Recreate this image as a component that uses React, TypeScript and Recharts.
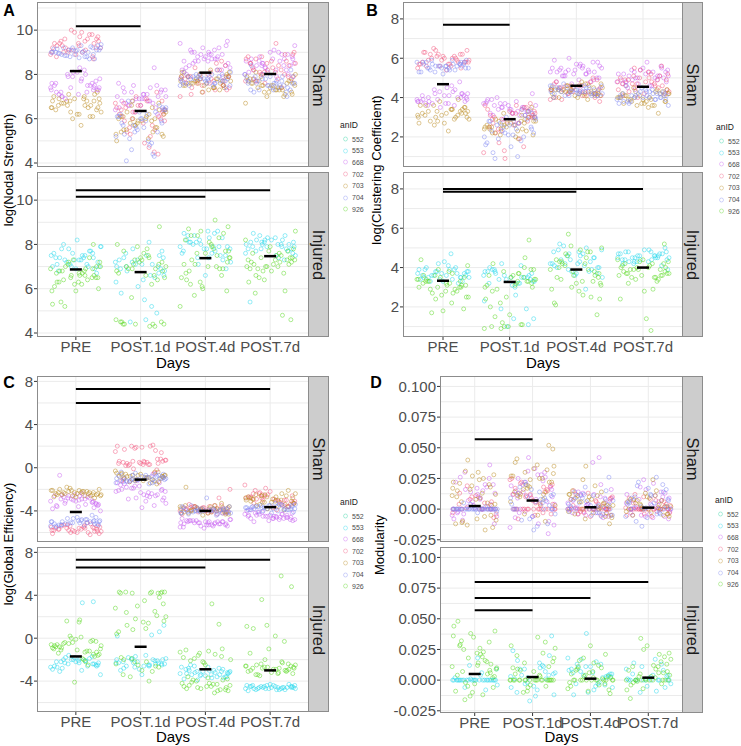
import React from "react";
import { ScatterChart, Scatter, XAxis, YAxis, CartesianGrid, ReferenceLine } from "recharts";

const DAYS = ["PRE", "POST.1d", "POST.4d", "POST.7d"];
const AN_IDS = ["552", "553", "668", "702", "703", "704", "926"];
const AN_COLORS: Record<string, string> = {
  "552": "#1fcf9a",
  "553": "#22d8ec",
  "668": "#c65cf0",
  "702": "#f2557c",
  "703": "#b98a1e",
  "704": "#7f86f2",
  "926": "#55d61c",
};

// fixed jitter offsets (fraction of a category slot)
const JITTER = [-0.31, 0.17, -0.05, 0.36, -0.22, 0.08, 0.29, -0.38, 0.02, -0.14, 0.23, -0.27, 0.12, 0.39, -0.09, -0.34, 0.19, 0.05, -0.19, 0.32,
  -0.02, 0.26, -0.36, 0.14, -0.11, 0.34, -0.25, 0.0, 0.21, -0.29, 0.1, -0.17, 0.38, -0.07, 0.27, -0.33, 0.15, -0.23, 0.31, 0.06,
  -0.39, 0.04, -0.12, 0.25, -0.21, 0.35, -0.04, 0.18, -0.3, 0.09, -0.16, 0.28, -0.37, 0.13, -0.08, 0.37, -0.26, 0.22, -0.13, 0.33];

type Row = [string, string, number[]];

// ---- A: log(Nodal Strength)
const nodalSham: Row[] = [
  ["PRE", "704", [9.0, 8.8, 9.2, 9.1, 8.9, 9.3, 8.7, 9.0, 9.1, 8.85, 9.25, 8.95, 9.05, 9.35, 8.8, 9.15, 9.0, 8.75, 9.2, 9.1, 8.9, 9.2, 9.0, 8.8, 9.1, 9.3, 8.95, 9.05, 8.7, 9.15, 9.0, 8.85, 9.2, 9.1, 8.9]],
  ["PRE", "702", [9.3, 9.0, 9.6, 9.9, 8.8, 9.2, 9.5, 9.1, 9.7, 9.4, 8.9, 9.8, 9.3, 9.0, 9.6, 9.2, 10.0, 8.7, 9.4, 9.1, 9.5, 9.2, 9.7, 8.9, 9.4, 9.0, 9.8, 9.3, 9.5, 9.1, 9.6, 8.8, 9.9, 9.2, 9.4, 9.0]],
  ["PRE", "668", [7.3, 7.5, 8.0, 7.2, 7.7, 8.3, 7.4, 7.1, 7.9, 7.6, 7.0, 7.3, 8.1, 7.5, 7.2, 7.8, 6.9, 7.4, 7.6, 8.2, 7.4, 7.8, 7.1, 7.5, 8.0, 7.3, 7.6, 7.2, 7.9, 7.4, 7.0, 7.7, 7.5, 7.3, 8.1]],
  ["PRE", "703", [6.8, 6.5, 7.0, 6.3, 6.7, 6.9, 6.1, 6.6, 7.2, 6.4, 6.8, 6.0, 6.9, 6.7, 5.7, 7.1, 6.5, 6.2, 6.8, 6.6, 6.6, 6.9, 6.3, 6.8, 7.0, 6.5, 6.2, 6.7, 6.4, 6.9, 6.1, 6.8, 6.6, 7.1, 6.5]],
  ["POST.1d", "668", [6.9, 7.2, 6.5, 7.4, 6.8, 7.0, 6.3, 7.6, 6.7, 7.1, 6.6, 7.3, 6.9, 6.2, 7.0, 6.8, 7.5, 6.4, 7.2, 6.6, 8.3, 6.8, 7.1, 6.6, 7.3, 6.9, 7.0, 6.5, 7.4, 6.7, 7.2, 6.9, 6.4, 7.1, 6.8, 7.5]],
  ["POST.1d", "702", [6.3, 5.9, 6.6, 4.5, 6.1, 6.8, 5.6, 6.4, 7.0, 4.4, 6.2, 5.2, 6.5, 6.0, 4.9, 6.7, 5.8, 6.3, 7.2, 5.4, 6.2, 6.6, 5.7, 6.4, 6.9, 5.3, 6.1, 6.5, 4.7, 6.3, 5.9, 6.7, 5.5, 6.0, 6.8]],
  ["POST.1d", "703", [6.0, 5.6, 6.3, 5.2, 5.9, 6.5, 5.4, 6.1, 5.8, 6.7, 5.0, 6.2, 5.7, 6.4, 5.5, 6.0, 6.8, 5.3, 6.1, 5.9, 5.8, 6.2, 5.5, 6.0, 6.4, 5.3, 5.9, 6.6, 5.6, 6.1, 5.1, 6.3, 5.7, 6.0, 5.4]],
  ["POST.1d", "704", [5.8, 6.2, 4.9, 5.5, 6.4, 4.1, 5.9, 6.6, 5.2, 6.0, 4.6, 6.3, 5.7, 5.0, 6.5, 5.4, 6.1, 4.4, 5.6, 6.8, 5.9, 6.3, 5.4, 6.1, 4.8, 5.7, 6.5, 5.3, 6.0, 4.3, 5.8, 6.2, 5.1, 6.4, 5.6]],
  ["POST.4d", "668", [8.8, 9.0, 8.5, 9.3, 8.7, 8.9, 8.2, 9.1, 8.6, 9.5, 8.4, 8.8, 9.2, 8.0, 8.7, 9.0, 8.3, 8.9, 7.9, 8.6, 8.7, 9.1, 8.4, 8.9, 9.4, 8.6, 8.8, 8.2, 9.0, 8.5, 9.2, 8.7, 8.3, 8.9, 8.6]],
  ["POST.4d", "702", [7.8, 7.5, 8.1, 7.3, 7.9, 8.4, 7.6, 7.0, 8.0, 7.7, 8.6, 7.4, 7.9, 7.2, 8.2, 7.6, 7.8, 8.3, 7.5, 7.9, 7.7, 8.0, 7.4, 7.9, 8.2, 7.6, 7.3, 7.8, 8.5, 7.5, 7.9, 7.1, 8.1, 7.7, 7.8]],
  ["POST.4d", "703", [7.7, 7.5, 7.9, 7.4, 7.8, 8.1, 7.6, 7.3, 7.7, 8.0, 7.5, 7.8, 7.2, 7.9, 7.6, 8.2, 7.4, 7.7, 7.6, 7.8, 7.6, 7.9, 7.4, 7.7, 8.0, 7.5, 7.8, 7.3, 7.6, 7.9, 7.5, 7.7, 8.1, 7.4, 7.6]],
  ["POST.4d", "704", [7.8, 7.6, 8.0, 7.7, 7.9, 7.5, 8.1, 7.8, 7.6, 8.2, 7.7, 7.9, 7.4, 7.8, 8.0, 7.7, 7.6, 7.9, 7.8, 7.5, 7.7, 7.9, 7.6, 8.0, 7.8, 7.5, 7.9, 7.7, 8.1, 7.6, 7.8, 7.7, 7.9, 7.5, 7.8]],
  ["POST.7d", "668", [8.5, 8.8, 8.2, 9.0, 8.4, 8.7, 7.9, 8.6, 9.3, 8.3, 8.9, 8.1, 8.6, 7.7, 8.4, 9.1, 8.0, 8.7, 8.5, 8.2, 8.4, 8.7, 8.1, 8.9, 8.5, 8.2, 8.8, 8.0, 8.6, 9.0, 8.3, 8.5, 7.8, 8.7, 8.4]],
  ["POST.7d", "702", [8.3, 8.0, 8.6, 7.7, 8.9, 8.2, 7.4, 8.5, 9.4, 8.1, 7.9, 8.7, 8.4, 7.6, 9.0, 8.2, 8.0, 8.8, 7.8, 8.5, 8.2, 8.5, 7.9, 8.7, 8.1, 8.4, 7.7, 8.6, 8.0, 8.9, 8.3, 7.8, 8.5, 8.1, 8.8]],
  ["POST.7d", "703", [7.5, 7.2, 7.8, 7.4, 7.0, 7.6, 8.1, 7.3, 7.7, 6.7, 7.5, 7.9, 7.1, 7.6, 7.4, 8.0, 7.2, 7.7, 7.3, 7.5, 7.4, 7.7, 7.2, 7.6, 7.9, 7.3, 7.5, 7.1, 7.8, 7.4, 7.0, 7.6, 7.3, 7.7, 7.5]],
  ["POST.7d", "704", [7.6, 7.9, 7.3, 7.7, 8.2, 7.5, 7.0, 7.8, 7.4, 8.0, 7.6, 7.2, 7.9, 7.5, 8.4, 7.7, 7.3, 7.6, 7.8, 7.4, 7.7, 7.5, 7.9, 7.3, 7.6, 8.0, 7.4, 7.8, 7.2, 7.6, 7.9, 7.5, 7.7, 7.3, 7.6]],
];
const nodalInjured: Row[] = [
  ["PRE", "553", [7.4, 7.1, 7.6, 7.0, 7.8, 7.3, 6.9, 7.5, 8.2, 7.2, 7.7, 6.8, 7.4, 7.9, 7.1, 7.6, 7.0, 7.3, 8.0, 6.7, 7.3, 7.6, 7.0, 7.5, 7.8, 7.2, 7.4, 6.9, 7.7, 7.1, 7.5, 7.3, 7.9, 7.0, 7.4]],
  ["PRE", "926", [6.7, 6.4, 7.0, 6.2, 6.9, 5.3, 6.6, 7.2, 6.5, 6.8, 5.9, 7.4, 6.3, 6.7, 5.2, 7.0, 6.6, 8.0, 6.1, 6.9, 5.4, 6.5, 6.6, 6.9, 6.3, 7.1, 6.5, 6.8, 6.0, 7.3, 6.4, 6.7, 6.2, 7.0, 6.6, 5.9, 6.8, 6.5, 7.2, 6.3]],
  ["POST.1d", "553", [7.0, 7.3, 6.6, 7.6, 6.9, 5.5, 7.2, 6.4, 7.8, 4.9, 6.8, 7.4, 6.1, 7.1, 5.8, 7.5, 4.5, 6.7, 7.0, 8.1, 7.1, 6.8, 7.4, 6.5, 7.2, 7.7, 6.9, 5.2, 7.3, 6.6, 7.0, 4.6, 7.5, 6.3, 7.1]],
  ["POST.1d", "926", [7.1, 6.8, 7.4, 4.4, 6.5, 7.7, 4.3, 6.9, 7.2, 4.5, 6.2, 7.9, 4.4, 7.0, 6.6, 8.8, 4.6, 7.3, 5.6, 6.9, 4.4, 7.5, 7.0, 7.3, 6.7, 4.4, 7.6, 6.9, 4.5, 7.2, 6.4, 8.0, 4.3, 7.1, 6.8, 4.4, 7.4, 6.6, 4.5, 7.8]],
  ["POST.4d", "553", [7.8, 8.1, 7.5, 8.4, 7.9, 7.2, 8.2, 7.7, 8.6, 7.4, 8.0, 6.9, 7.8, 8.3, 7.6, 8.5, 7.1, 7.9, 8.1, 6.6, 7.9, 8.2, 7.6, 8.4, 7.8, 8.0, 7.3, 8.5, 7.7, 8.1, 7.5, 8.3, 7.9, 8.6, 7.4]],
  ["POST.4d", "926", [7.2, 6.8, 7.6, 8.3, 6.4, 7.9, 5.7, 7.4, 8.6, 6.9, 7.1, 9.1, 6.2, 7.7, 8.1, 5.2, 7.0, 8.4, 6.6, 7.3, 8.8, 6.0, 7.5, 6.7, 8.0, 7.1, 8.5, 6.5, 7.8, 6.3, 7.4, 8.7, 6.9, 7.6, 5.9, 8.2, 7.0, 6.1, 7.7, 8.4]],
  ["POST.7d", "553", [8.0, 7.8, 8.2, 7.6, 8.3, 7.9, 8.1, 7.5, 8.4, 7.7, 8.0, 7.4, 8.2, 7.9, 8.5, 7.3, 8.1, 7.8, 5.4, 8.0, 7.9, 8.1, 7.7, 8.3, 8.0, 7.6, 8.2, 7.8, 8.4, 7.9, 8.0, 7.5, 8.1, 7.8, 8.2]],
  ["POST.7d", "926", [7.2, 6.9, 7.5, 7.0, 7.8, 6.6, 7.3, 7.1, 8.2, 6.8, 7.4, 5.9, 7.6, 7.0, 8.6, 6.4, 7.3, 4.8, 7.1, 6.9, 4.6, 7.7, 7.3, 7.0, 7.6, 6.8, 7.4, 7.1, 7.9, 6.7, 7.2, 7.5, 6.5, 7.3, 7.0, 7.7, 6.3, 7.2, 5.8, 7.4]],
];
const nodalShamMeans = [8.15, 6.35, 8.08, 8.02];
const nodalInjuredMeans = [6.87, 6.75, 7.38, 7.47];
const nodalShamSig = [[1, 2, 10.18]];
const nodalInjuredSig = [[1, 3, 10.15], [1, 4, 10.45]];

// ---- B: log(Clustering Coefficient)
const clustSham: Row[] = [
  ["PRE", "702", [5.8, 6.1, 5.6, 6.4, 5.9, 5.7, 6.2, 5.5, 6.0, 6.5, 5.8, 6.3, 5.6, 5.9, 6.1, 5.7, 6.0, 5.4, 6.2, 5.8, 5.9, 6.2, 5.7, 6.0, 6.4, 5.8, 5.6, 6.1, 5.9, 6.3, 5.7, 6.0, 5.8, 6.2, 5.5]],
  ["PRE", "704", [5.6, 5.4, 5.8, 5.5, 5.7, 5.3, 5.9, 5.6, 5.5, 5.8, 5.2, 5.6, 5.7, 5.4, 5.9, 5.5, 5.6, 5.8, 5.3, 5.7, 5.5, 5.7, 5.4, 5.8, 5.6, 5.3, 5.7, 5.5, 5.9, 5.6, 5.4, 5.8, 5.5, 5.7, 5.6]],
  ["PRE", "668", [4.0, 3.8, 4.3, 3.6, 4.1, 4.5, 3.9, 3.7, 4.2, 4.8, 3.8, 4.0, 3.5, 4.4, 3.9, 4.1, 3.7, 4.2, 3.8, 4.6, 3.9, 4.2, 3.7, 4.0, 4.4, 3.8, 4.1, 3.6, 4.3, 3.9, 4.0, 3.7, 4.2, 3.8, 4.1]],
  ["PRE", "703", [3.2, 3.0, 3.4, 2.8, 3.3, 3.6, 3.1, 2.6, 3.5, 3.2, 2.9, 3.8, 3.0, 3.3, 2.3, 3.4, 3.1, 2.7, 3.6, 3.9, 3.1, 3.4, 2.9, 3.3, 3.6, 3.0, 3.2, 2.8, 3.5, 3.1, 3.3, 2.7, 3.4, 3.0, 3.2]],
  ["POST.1d", "668", [3.4, 3.7, 3.1, 3.9, 3.3, 3.6, 2.9, 3.8, 3.5, 3.2, 4.0, 3.0, 3.6, 3.3, 3.7, 2.7, 3.5, 4.2, 3.1, 3.4, 3.5, 3.2, 3.8, 3.4, 3.0, 3.7, 3.3, 3.9, 3.1, 3.6, 3.4, 2.8, 3.7, 3.2, 3.5]],
  ["POST.1d", "702", [3.0, 2.7, 3.3, 1.5, 3.1, 3.6, 2.4, 3.2, 0.9, 2.8, 3.4, 1.9, 3.0, 3.7, 2.6, 1.2, 3.2, 2.9, 3.5, 2.2, 3.1, 2.8, 3.4, 2.5, 3.2, 1.7, 3.0, 3.6, 2.7, 1.3, 3.3, 2.9, 3.5, 2.3, 3.1]],
  ["POST.1d", "703", [2.6, 2.3, 2.9, 2.1, 2.7, 3.1, 2.4, 2.0, 2.8, 3.3, 2.5, 1.9, 2.6, 3.0, 2.2, 2.7, 2.4, 3.5, 2.5, 2.8, 2.5, 2.8, 2.2, 2.6, 3.0, 2.4, 2.7, 2.1, 2.9, 2.5, 2.3, 2.8, 3.2, 2.6, 2.4]],
  ["POST.1d", "704", [2.4, 2.8, 1.8, 3.0, 2.2, 0.9, 2.6, 3.3, 2.0, 1.5, 2.7, 3.1, 2.3, 1.0, 2.9, 2.5, 1.7, 3.4, 2.1, 2.6, 2.5, 2.1, 2.9, 1.6, 2.7, 2.3, 3.2, 1.2, 2.6, 2.0, 2.8, 2.4, 1.9, 3.0, 2.2]],
  ["POST.4d", "668", [5.3, 5.6, 5.1, 5.8, 5.4, 4.9, 5.5, 5.2, 6.0, 5.0, 5.4, 5.7, 4.8, 5.3, 5.6, 5.1, 5.5, 4.7, 5.3, 5.9, 5.2, 5.5, 5.0, 5.7, 5.3, 4.9, 5.4, 5.8, 5.1, 5.6, 5.2, 5.4, 4.8, 5.5, 5.3]],
  ["POST.4d", "702", [4.4, 4.2, 4.7, 4.1, 4.5, 4.9, 4.3, 3.9, 4.6, 4.2, 5.0, 4.4, 3.8, 4.5, 4.3, 4.8, 4.1, 4.6, 4.0, 4.4, 4.3, 4.6, 4.1, 4.5, 4.8, 4.2, 4.4, 4.0, 4.7, 4.3, 4.5, 3.9, 4.6, 4.2, 4.4]],
  ["POST.4d", "703", [4.3, 4.1, 4.5, 4.2, 4.4, 4.7, 4.0, 4.3, 4.6, 4.2, 4.4, 3.9, 4.5, 4.1, 4.3, 4.8, 4.2, 4.4, 4.0, 4.6, 4.2, 4.4, 4.1, 4.5, 4.3, 4.0, 4.6, 4.2, 4.4, 4.3, 4.1, 4.5, 4.2, 4.7, 4.3]],
  ["POST.4d", "704", [4.3, 4.2, 4.5, 4.1, 4.4, 4.6, 4.2, 4.3, 4.0, 4.5, 4.3, 4.7, 4.1, 4.4, 4.2, 4.6, 4.3, 4.1, 4.4, 4.5, 4.4, 4.2, 4.5, 4.3, 4.1, 4.6, 4.3, 4.4, 4.2, 4.5, 4.3, 4.1, 4.4, 4.6, 4.2]],
  ["POST.7d", "668", [5.0, 5.3, 4.8, 5.5, 4.9, 5.2, 4.6, 5.4, 5.1, 4.7, 5.6, 4.9, 5.3, 4.5, 5.0, 5.8, 4.8, 5.2, 4.4, 5.1, 5.1, 4.8, 5.4, 5.0, 4.7, 5.3, 4.9, 5.5, 5.2, 4.6, 5.0, 5.4, 4.8, 5.1, 5.3]],
  ["POST.7d", "702", [4.8, 4.5, 5.1, 4.3, 4.9, 5.4, 4.6, 4.1, 5.0, 4.7, 5.6, 4.4, 4.8, 4.0, 5.2, 4.6, 4.9, 5.5, 4.2, 4.7, 4.7, 5.0, 4.4, 4.9, 5.3, 4.6, 4.8, 4.2, 5.1, 4.5, 4.9, 5.2, 4.3, 4.7, 5.0]],
  ["POST.7d", "703", [4.0, 3.8, 4.2, 3.6, 4.1, 4.4, 3.9, 3.5, 4.3, 4.0, 3.7, 4.5, 3.2, 4.1, 3.9, 4.2, 3.6, 4.0, 4.3, 3.8, 3.9, 4.1, 3.7, 4.2, 4.0, 3.6, 4.3, 3.8, 4.1, 3.9, 4.4, 3.7, 4.0, 3.8, 4.2]],
  ["POST.7d", "704", [4.1, 3.9, 4.3, 3.8, 4.2, 4.5, 4.0, 3.7, 4.4, 4.1, 3.9, 4.6, 4.0, 4.2, 3.8, 4.3, 4.1, 3.6, 4.2, 4.0, 4.0, 4.2, 3.8, 4.3, 4.1, 3.9, 4.4, 4.0, 4.2, 3.7, 4.1, 4.3, 3.9, 4.2, 4.0]],
];
const clustInjured: Row[] = [
  ["PRE", "553", [3.6, 3.9, 3.4, 3.8, 3.5, 4.1, 3.3, 3.7, 4.3, 3.6, 3.2, 3.9, 4.7, 3.5, 3.8, 3.4, 4.0, 3.6, 3.3, 3.7, 3.7, 3.5, 3.9, 3.4, 3.8, 3.6, 4.0, 3.3, 3.7, 3.5, 3.9, 3.6, 3.8, 4.2, 3.5]],
  ["PRE", "926", [3.2, 2.9, 3.5, 2.6, 3.3, 3.0, 3.7, 2.4, 3.1, 3.4, 1.8, 2.8, 3.6, 3.2, 1.7, 2.5, 3.9, 3.0, 4.4, 2.7, 3.3, 1.9, 3.1, 3.4, 2.8, 3.6, 3.0, 3.3, 2.5, 3.5, 2.9, 3.2, 3.8, 2.7, 3.1, 3.4, 2.2, 3.0, 4.1, 3.3]],
  ["POST.1d", "553", [3.5, 3.8, 3.2, 3.9, 3.4, 1.4, 3.6, 3.1, 4.2, 1.9, 3.7, 3.3, 1.0, 3.5, 4.0, 2.6, 3.4, 1.1, 3.8, 3.2, 3.6, 3.3, 3.9, 3.5, 1.9, 3.7, 3.2, 4.1, 3.4, 1.4, 3.8, 3.0, 3.6, 2.3, 3.5]],
  ["POST.1d", "926", [3.3, 3.0, 3.7, 1.0, 3.4, 2.8, 4.0, 0.9, 3.2, 3.6, 1.1, 2.5, 3.9, 1.5, 3.1, 5.4, 0.9, 3.5, 2.2, 4.5, 1.0, 3.3, 3.4, 3.8, 3.1, 1.1, 3.6, 2.9, 3.9, 1.0, 3.3, 2.4, 3.7, 1.2, 3.0, 4.2, 1.6, 3.5, 2.0, 3.2]],
  ["POST.4d", "553", [4.2, 4.6, 3.9, 4.9, 4.1, 3.5, 4.4, 4.8, 3.8, 4.3, 5.1, 4.0, 3.6, 4.5, 4.2, 2.9, 4.7, 4.0, 5.2, 3.7, 4.3, 4.0, 4.7, 4.2, 4.9, 3.8, 4.5, 4.1, 5.0, 4.4, 3.7, 4.6, 4.2, 4.8, 3.9]],
  ["POST.4d", "926", [3.7, 4.3, 3.2, 4.8, 3.5, 2.6, 4.1, 5.0, 3.0, 3.8, 2.2, 4.5, 3.4, 1.6, 4.9, 3.9, 2.8, 5.7, 3.3, 4.2, 2.4, 3.6, 3.9, 4.4, 3.3, 4.7, 3.6, 2.9, 4.2, 5.1, 3.1, 4.0, 2.5, 4.6, 3.5, 2.1, 4.8, 3.8, 3.2, 4.3]],
  ["POST.7d", "553", [4.5, 4.7, 4.3, 4.8, 4.4, 4.6, 4.2, 4.9, 4.5, 4.1, 4.7, 4.4, 4.6, 3.9, 4.8, 4.5, 4.3, 5.0, 4.4, 4.6, 4.6, 4.4, 4.8, 4.3, 4.7, 4.5, 4.9, 4.2, 4.6, 4.4, 4.8, 4.5, 4.3, 4.7, 4.5]],
  ["POST.7d", "926", [3.8, 4.1, 3.5, 4.3, 3.7, 3.2, 4.0, 3.6, 4.4, 2.8, 3.9, 3.4, 4.2, 0.8, 3.7, 4.0, 2.4, 3.5, 1.4, 3.9, 5.2, 3.6, 3.9, 3.6, 4.2, 3.4, 4.0, 3.7, 4.4, 3.3, 3.8, 4.1, 3.5, 4.3, 3.9, 3.6, 4.0, 2.9, 3.7, 4.2]],
];
const clustShamMeans = [4.68, 2.9, 4.6, 4.55];
const clustInjuredMeans = [3.33, 3.27, 3.9, 4.0];
const clustShamSig = [[1, 2, 7.7]];
const clustInjuredSig = [[1, 3, 7.85], [1, 4, 8.0]];

// ---- C: log(Global Efficiency)
const globalSham: Row[] = [
  ["PRE", "703", [-2.4, -2.2, -2.6, -2.0, -2.5, -2.3, -2.8, -2.1, -2.4, -1.8, -2.6, -2.3, -2.2, -2.5, -1.9, -2.7, -2.4, -2.1, -2.3, -2.5, -2.3, -2.5, -2.1, -2.6, -2.2, -2.4, -2.0, -2.7, -2.3, -2.5, -2.2, -2.4, -2.6, -2.1, -2.3]],
  ["PRE", "668", [-3.0, -2.7, -3.4, -2.5, -3.2, -3.8, -2.9, -2.6, -3.5, -0.7, -3.1, -2.8, -3.6, -2.4, -3.3, -4.0, -2.9, -3.1, -2.6, -3.4, -2.9, -3.3, -2.6, -3.1, -3.6, -2.8, -3.2, -2.5, -3.4, -3.0, -2.7, -3.5, -2.9, -3.1, -3.7]],
  ["PRE", "704", [-5.0, -5.2, -4.8, -5.3, -4.6, -5.1, -5.4, -4.9, -5.2, -4.4, -5.0, -5.3, -4.7, -5.1, -5.5, -4.8, -5.2, -4.9, -5.0, -5.3, -5.1, -4.9, -5.3, -5.0, -4.7, -5.2, -5.4, -4.8, -5.1, -5.0, -5.3, -4.9, -5.2, -5.0, -4.6]],
  ["PRE", "702", [-5.6, -5.8, -5.4, -6.0, -5.5, -5.7, -6.2, -5.3, -5.9, -5.6, -5.1, -5.8, -6.1, -5.4, -5.7, -5.9, -5.5, -6.0, -5.6, -5.2, -5.7, -5.5, -5.9, -5.4, -5.8, -6.0, -5.6, -5.3, -5.7, -5.9, -5.5, -6.1, -5.6, -5.8, -5.4]],
  ["POST.1d", "702", [1.9, 2.0, 1.6, 0.5, 0.3, 0.7, 1.8, 0.4, 2.1, 0.6, 0.2, 1.4, 0.5, 0.8, 2.0, 0.3, -0.1, 0.6, 1.7, 0.4, -0.5, -1.2, 0.5, 0.3, 0.7, 1.9, 0.4, 0.6, 2.0, 0.2, 0.8, 0.5, 1.5, 0.3, 0.6, -0.2, 0.4]],
  ["POST.1d", "703", [-0.8, -1.0, -0.6, -1.2, -0.5, -0.9, -1.3, -0.7, -1.1, -0.4, -0.8, -1.4, -0.6, -1.0, -0.9, -0.3, -1.2, -0.7, -1.5, -0.8, -0.9, -0.7, -1.1, -0.6, -1.0, -0.8, -1.3, -0.5, -0.9, -1.2, -0.7, -1.0, -0.4, -1.1, -0.8]],
  ["POST.1d", "704", [-1.0, -0.8, -1.3, -0.6, -1.1, -1.4, -0.4, -0.9, -1.2, -0.7, -1.0, -1.5, -0.5, -1.1, -0.9, -1.3, -0.7, -1.0, -1.2, -0.8, -1.1, -0.9, -1.2, -0.7, -1.0, -1.4, -0.8, -1.1, -0.6, -1.3, -0.9, -1.0, -1.2, -0.7, -1.1]],
  ["POST.1d", "668", [-2.0, -1.6, -2.4, -1.2, -2.8, -1.8, -3.1, -1.4, -2.2, -3.7, -1.9, -2.6, -1.1, -2.3, -3.3, -1.7, -2.1, -0.6, -2.5, -2.9, -2.1, -1.7, -2.5, -1.4, -2.7, -1.9, -3.0, -1.5, -2.3, -3.5, -2.0, -2.6, -1.3, -2.2, -2.8]],
  ["POST.4d", "702", [-3.8, -4.0, -3.6, -4.2, -3.7, -3.9, -4.3, -3.5, -4.1, -3.8, -3.4, -4.0, -2.8, -3.9, -4.1, -3.6, -2.0, -3.8, -4.2, -3.7, -3.9, -3.7, -4.1, -3.6, -4.0, -4.2, -3.8, -3.5, -3.9, -4.1, -3.7, -4.3, -3.8, -4.0, -3.6]],
  ["POST.4d", "703", [-3.9, -3.7, -4.1, -3.5, -4.0, -4.3, -3.8, -3.6, -4.2, -3.9, -3.3, -4.0, -3.7, -4.4, -3.8, -1.8, -4.1, -3.6, -3.9, -4.2, -3.8, -4.0, -3.6, -4.2, -3.9, -3.7, -4.1, -3.5, -4.0, -3.8, -4.3, -3.9, -3.6, -4.1, -3.8]],
  ["POST.4d", "704", [-4.0, -3.8, -4.2, -3.9, -4.1, -3.6, -4.3, -4.0, -3.7, -4.2, -3.9, -4.4, -3.8, -4.1, -3.5, -4.0, -3.9, -4.2, -2.8, -4.0, -3.9, -4.1, -3.8, -4.2, -4.0, -3.7, -4.3, -3.9, -4.1, -3.8, -4.0, -4.2, -3.6, -4.0, -3.9]],
  ["POST.4d", "668", [-5.1, -5.3, -4.9, -5.2, -5.0, -5.4, -4.8, -5.1, -5.5, -5.0, -5.3, -4.9, -5.2, -5.6, -5.0, -4.7, -5.2, -5.1, -5.4, -4.9, -5.0, -5.2, -4.9, -5.3, -5.1, -4.8, -5.4, -5.0, -5.2, -5.1, -4.9, -5.3, -5.0, -5.5, -5.1]],
  ["POST.7d", "702", [-3.0, -2.6, -3.3, -2.2, -3.5, -2.8, -3.9, -2.4, -3.1, -1.9, -3.6, -2.7, -3.2, -2.1, -3.4, -2.9, -1.6, -3.7, -2.5, -3.0, -2.9, -3.2, -2.5, -3.4, -2.7, -3.0, -2.3, -3.6, -2.8, -3.1, -2.6, -3.3, -2.4, -3.0, -2.8]],
  ["POST.7d", "703", [-2.9, -3.2, -2.6, -3.5, -2.8, -3.8, -2.4, -3.1, -2.7, -3.4, -2.1, -3.0, -3.6, -2.5, -3.3, -2.9, -3.9, -2.6, -3.1, -2.8, -3.0, -2.7, -3.3, -2.5, -3.1, -3.6, -2.8, -3.2, -2.6, -3.4, -2.9, -3.0, -2.4, -3.2, -2.7]],
  ["POST.7d", "704", [-3.7, -3.5, -3.9, -3.4, -3.8, -4.1, -3.6, -3.3, -3.9, -3.7, -4.2, -3.5, -3.8, -3.6, -4.0, -3.4, -3.7, -3.9, -3.5, -3.8, -3.6, -3.8, -3.5, -3.9, -3.7, -3.4, -4.0, -3.6, -3.8, -3.5, -3.9, -3.7, -3.6, -4.1, -3.8]],
  ["POST.7d", "668", [-4.5, -4.3, -4.7, -4.1, -4.6, -4.9, -4.4, -4.0, -4.8, -4.5, -4.2, -5.0, -4.4, -4.7, -3.9, -4.6, -4.3, -4.8, -4.5, -4.6, -4.4, -4.6, -4.2, -4.8, -4.5, -4.3, -4.7, -4.1, -4.6, -4.4, -4.9, -4.5, -4.3, -4.7, -4.5]],
];
const globalInjured: Row[] = [
  ["PRE", "926", [-0.8, -1.2, -0.4, -1.5, -0.9, 0.1, -1.7, -0.6, -1.1, 1.6, -0.3, -1.4, -2.0, -0.7, 0.2, -1.0, -2.5, 1.5, -0.5, -1.3, -4.1, -0.2, -0.9, -1.3, -0.5, -1.6, -0.8, -0.1, -1.2, -0.6, -1.9, -0.4, -1.0, 0.0, -1.5, -0.7, -2.2, -1.1, -0.3, 1.7]],
  ["PRE", "553", [-2.3, -2.0, -2.6, -1.8, -2.4, -2.9, -2.1, -1.6, -2.5, -3.1, -2.2, -1.9, -2.7, 3.3, -2.3, -3.4, -2.0, 3.4, -2.6, -2.1, -2.2, -2.5, -1.9, -2.7, -2.1, -2.4, -1.7, -2.8, -2.3, -2.0, -2.6, -2.2, -3.0, -1.8, -2.4]],
  ["POST.1d", "926", [4.2, 4.3, 4.2, 4.3, 4.2, 3.5, 2.8, 1.5, 0.8, 2.1, 1.2, 3.2, -2.5, -3.1, -1.8, -2.2, -3.6, -2.7, 0.4, -4.0, 1.8, 4.3, -2.0, 2.5, 4.2, 4.3, 4.2, 4.3, 3.0, 1.6, 2.4, 0.9, 3.8, -2.4, -3.0, -1.9, -2.6, -3.4, 1.4, 2.0, -2.2, 0.6]],
  ["POST.1d", "553", [-2.3, -2.0, -2.6, -1.7, -2.4, -2.8, -2.1, -1.9, -2.5, -3.0, 0.3, -2.2, 1.2, -2.6, -1.6, 0.6, -2.3, -3.4, -2.0, -2.4, -2.2, -2.5, -1.9, -2.7, -2.3, -2.0, -2.6, -1.8, -2.4, -2.9, -2.1, 0.2, -2.5, -2.3, -2.0]],
  ["POST.4d", "926", [-4.5, -4.0, -4.8, -3.6, -4.3, -2.0, -1.4, -1.8, -4.9, -1.2, -3.9, -4.6, -2.3, -1.0, -4.2, -5.1, -1.6, -3.8, -4.4, -2.5, 1.3, -4.7, 3.2, -1.9, -4.4, -4.7, -3.9, -4.5, -1.5, -2.1, -4.8, -4.2, -1.3, -3.7, -4.6, -1.7, -4.1, -4.9, -2.2, -4.3, -1.1, -4.5]],
  ["POST.4d", "553", [-3.2, -3.0, -3.5, -2.8, -3.3, -3.7, -2.6, -3.1, -3.4, -2.9, -3.8, -3.2, -2.5, -3.6, -3.0, -3.3, -2.7, -3.9, -3.1, -3.4, -3.3, -3.1, -3.6, -2.9, -3.4, -3.2, -3.7, -2.7, -3.0, -3.5, -3.2, -2.8, -3.4, -3.1, -3.6]],
  ["POST.7d", "926", [-2.8, -3.1, -2.5, -3.3, -2.7, -2.2, -3.0, -2.9, -3.5, -2.4, -2.6, -3.2, -2.0, -2.8, 0.9, -0.3, 3.6, 4.8, -1.4, 5.8, 1.2, -2.7, -3.4, 0.2, -2.9, -2.6, -3.2, -2.4, -3.0, -2.8, -3.3, -2.5, -2.7, -3.1, -2.3, -2.9, -3.4, -2.6, -1.0, -3.0, 1.1, -2.8]],
  ["POST.7d", "553", [-4.6, -4.5, -4.7, -4.4, -4.6, -4.8, -4.5, -4.3, -4.7, -4.6, -4.5, -4.8, -4.4, -4.6, -4.7, -4.5, -4.9, -4.6, -4.4, -4.7, -4.5, -4.7, -4.6, -4.4, -4.8, -4.6, -4.5, -4.7, -4.3, -4.6, -4.5, -4.8, -4.6, -4.4, -4.7]],
];
const globalShamMeans = [-4.1, -1.1, -4.0, -3.65];
const globalInjuredMeans = [-1.7, -0.8, -2.9, -3.0];
const globalShamSig = [[1, 2, 6.0], [1, 4, 7.3]];
const globalInjuredSig = [[1, 3, 6.6], [1, 4, 7.3]];

// ---- D: Modularity
const modSham: Row[] = [
  ["PRE", "704", [0, 0, 0, 0, 0, 0, 0, 0, 0, 0, 0, 0, 0, 0, 0, 0, 0.002, -0.003, 0.005, 0, 0, 0, 0, 0, 0, 0, 0, 0, 0, 0, 0, 0, -0.002, 0.004, 0]],
  ["PRE", "668", [0.012, -0.004, 0.02, 0.003, 0.036, -0.008, 0.015, 0.007, -0.012, 0.026, 0.001, 0.018, -0.002, 0.009, 0.03, -0.006, 0.014, 0.004, 0.022, 0, 0, 0, 0.01, -0.005, 0.017, 0.002, 0.025, -0.009, 0.013, 0.006, 0.02, -0.003, 0.008, 0.016, 0, 0, 0]],
  ["PRE", "703", [0.018, -0.012, 0.025, 0.006, -0.015, 0.03, 0.011, -0.008, 0.04, 0.02, -0.01, 0.004, 0.027, -0.017, 0.015, 0.009, 0.031, -0.005, 0.022, 0.013, 0.016, -0.009, 0.021, 0.005, -0.013, 0.028, 0.01, -0.006, 0.019, 0.012, -0.011, 0.024, 0.003, 0.017, 0.008]],
  ["PRE", "702", [0, 0, 0, 0.008, -0.004, 0.013, 0.002, 0.019, -0.007, 0, 0.005, 0.01, 0, 0, 0, 0.006, -0.003, 0.011, 0.001, 0, 0.004, 0]],
  ["POST.1d", "702", [0, 0, 0, 0, 0, 0, 0, 0.012, 0.018, 0.005, 0.022, -0.004, 0.009, 0.015, 0.025, 0.003, 0.011, 0.02, -0.008, 0.007, 0.014, 0, 0, 0, 0, 0, 0, 0, 0, 0.013, 0.019, 0.006, 0.024, -0.005, 0.01, 0.016, 0.021, 0.004, 0.012, -0.003, 0.017]],
  ["POST.1d", "668", [0.01, 0.025, -0.006, 0.03, 0.015, -0.012, 0.02, 0.004, 0.042, -0.02, 0.012, 0.028, -0.003, 0.018, 0.008, -0.015, 0.033, 0.022, 0.006, 0, 0, 0.011, 0.023, -0.007, 0.028, 0.014, -0.01, 0.019, 0.005, 0.031, -0.013, 0.009, 0.026, -0.002, 0.016, 0]],
  ["POST.1d", "703", [0.02, 0.032, 0.012, 0.049, 0.024, 0.008, 0.038, -0.005, 0.016, 0.052, 0.027, 0.004, 0.019, 0.035, 0.011, -0.01, 0.03, 0.022, 0.014, 0.025, 0.018, 0.029, 0.01, 0.036, 0.022, 0.006, 0.033, -0.004, 0.014, 0.041, 0.025, 0.003, 0.017, 0.027, 0.012]],
  ["POST.1d", "704", [0, 0, 0.005, -0.008, 0.012, 0.018, -0.014, 0.003, 0.009, -0.017, 0.022, 0.007, 0, 0.014, -0.004, 0.01, 0, 0, 0.006, -0.009, 0.011, 0.016, -0.012, 0.004, 0.008, 0.02, 0, 0.013, -0.006, 0.009]],
  ["POST.4d", "702", [0, 0, 0, 0, 0, 0, 0, 0.004, -0.003, 0.008, 0.012, -0.006, 0.002, 0.015, 0.006, -0.002, 0.01, 0, 0, 0, 0, 0, 0, 0, 0, 0, 0, 0.005, -0.004, 0.009, 0.013, -0.005, 0.003, 0.007, 0, 0]],
  ["POST.4d", "668", [0.003, -0.004, 0.008, 0.042, 0.001, -0.006, 0.012, 0.005, 0.038, -0.002, 0.009, 0.014, -0.005, 0.004, 0.02, 0.007, -0.003, 0.011, 0, 0, 0.002, -0.005, 0.009, 0.001, -0.007, 0.013, 0.006, -0.003, 0.01, 0.004, 0.016, -0.004, 0, 0]],
  ["POST.4d", "703", [0.006, -0.003, 0.012, 0.002, 0.035, -0.007, 0.009, 0.004, 0.024, -0.012, 0.015, 0.001, 0.007, -0.005, 0.011, 0.019, 0.003, -0.002, 0.008, 0, 0.005, -0.004, 0.011, 0.003, -0.008, 0.008, 0.014, -0.003, 0.006, 0.002, 0.01, -0.006, 0.012, 0]],
  ["POST.4d", "704", [0.004, -0.005, 0.009, 0.001, 0.014, -0.003, 0.007, 0.018, 0.002, -0.006, 0.011, 0.005, 0.026, 0, 0.008, -0.002, 0.003, 0.012, 0, 0, 0.003, -0.004, 0.008, 0.002, 0.012, -0.005, 0.006, 0.015, 0.001, -0.003, 0.01, 0.004, 0, 0]],
  ["POST.7d", "702", [0, 0, 0, 0, 0, 0, 0, 0, 0.003, -0.004, 0.006, 0.009, -0.002, 0.012, 0.004, -0.006, 0.001, 0.008, 0, 0, 0, 0, 0, 0, 0, 0, 0, 0.002, -0.005, 0.007, 0.01, -0.003, 0.005, 0, 0]],
  ["POST.7d", "668", [0.004, -0.005, 0.01, 0.002, -0.008, 0.016, 0.006, -0.003, 0.021, 0.008, -0.006, 0.012, 0.001, 0.024, -0.002, 0.007, 0.014, 0, 0, 0, 0.003, -0.006, 0.009, 0.001, -0.007, 0.013, 0.005, -0.004, 0.018, 0.007, -0.005, 0.011, 0, 0]],
  ["POST.7d", "703", [0.003, -0.004, 0.008, 0.001, 0.013, -0.006, 0.005, 0.024, 0.002, -0.002, 0.009, 0.004, 0.007, -0.005, 0.011, 0.002, 0, 0, 0.004, -0.003, 0.007, 0.002, 0.01, -0.005, 0.006, 0.015, 0.001, -0.004, 0.008, 0, 0]],
  ["POST.7d", "704", [0.006, -0.003, 0.011, 0.019, 0.002, -0.007, 0.014, 0.004, 0.026, -0.014, 0.008, 0.001, 0.017, -0.004, 0.009, 0.005, 0.022, 0, 0, 0, 0.005, -0.004, 0.01, 0.016, 0.003, -0.006, 0.012, 0.002, 0.02, -0.01, 0.007, 0.001, 0, 0]],
];
const modInjured: Row[] = [
  ["PRE", "553", [0, 0, 0, 0, 0, 0, 0, 0, 0, 0, 0, 0, 0.006, -0.004, 0.012, 0.002, -0.008, 0.018, 0, 0, 0, 0, 0, 0, 0, 0, 0, 0, 0, 0, 0.004, -0.006, 0.009, 0.001]],
  ["PRE", "926", [0.012, 0.025, -0.006, 0.035, 0.008, 0.044, -0.012, 0.018, 0.003, 0.029, -0.003, 0.015, 0.048, 0.021, -0.016, 0.01, 0.038, 0.006, -0.009, 0.023, 0.032, 0.002, 0.014, 0.011, 0.022, -0.005, 0.031, 0.007, 0.04, -0.01, 0.016, 0.004, 0.026, -0.002, 0.013, 0.036, 0.019, -0.013, 0.009, 0.028, 0.005]],
  ["POST.1d", "926", [0, 0, 0, 0, 0, 0, 0, 0, 0, 0, 0.008, 0.015, -0.004, 0.022, 0.005, 0.035, -0.01, 0.011, 0.028, 0.003, -0.006, 0.018, 0.009, 0.031, 0, 0, 0, 0, 0, 0, 0, 0, 0, 0, 0.007, 0.014, -0.005, 0.02, 0.004, 0.026, -0.009, 0.01]],
  ["POST.1d", "553", [0.004, -0.006, 0.01, 0.002, -0.012, 0.016, 0.007, -0.003, 0.036, 0.001, 0.012, -0.017, 0.005, 0.009, -0.008, 0.02, 0.003, -0.005, 0.009, 0.001, -0.01, 0.014, 0.006, -0.002, 0.024, 0.011, -0.013, 0.004]],
  ["POST.4d", "926", [0, 0, 0, 0, 0, 0, 0.004, -0.005, 0.01, 0.002, 0.016, -0.008, 0.006, 0.021, -0.002, 0.012, 0.003, -0.011, 0.008, 0.028, 0.001, 0, 0, 0, 0, 0, 0, 0.005, -0.004, 0.009, 0.003, 0.014, -0.007, 0.007, 0.018, -0.003, 0.011, 0.002, -0.009]],
  ["POST.4d", "553", [0.005, -0.003, 0.011, 0.002, -0.012, 0.015, 0.007, -0.006, 0.038, 0.003, 0.009, -0.002, 0.013, 0.004, -0.008, 0.018, 0.006, 0.004, -0.004, 0.01, 0.003, -0.01, 0.013, 0.006, -0.005, 0.017, 0.002, 0.008, -0.003, 0.011, 0.005]],
  ["POST.7d", "926", [0, 0, 0, 0, 0, 0.006, -0.004, 0.012, 0.003, 0.019, -0.008, 0.009, 0.025, 0.004, -0.002, 0.015, 0.034, 0.007, -0.015, 0.011, 0.001, 0.022, 0, 0, 0, 0, 0, 0.005, -0.003, 0.011, 0.002, 0.017, -0.007, 0.008, 0.021, 0.003, -0.001, 0.013, 0.028, 0.006]],
  ["POST.7d", "553", [0, 0, 0, 0, 0, 0, 0.004, -0.006, 0.009, 0.002, -0.01, 0.013, 0.005, 0.017, -0.003, 0, 0, 0, 0, 0, 0.003, -0.005, 0.008, 0.001, -0.009, 0.011, 0.004, 0.014]],
];
const modShamMeans = [0.0025, 0.007, 0.0015, 0.0012];
const modInjuredMeans = [0.005, 0.0025, 0.0012, 0.002];
const modShamSig = [[1, 2, 0.057]];
const modInjuredSig = [[1, 2, 0.057], [1, 3, 0.067], [1, 4, 0.08]];

const FONT = '"Liberation Sans", Arial, Helvetica, sans-serif';
const BORDER = "#8c8c8c";
const PAD = 8;

function buildSeries(rows: Row[]) {
  const byId: Record<string, { x: number; y: number }[]> = {};
  rows.forEach(([day, id, vals], r) => {
    const d = DAYS.indexOf(day) + 1;
    if (!byId[id]) byId[id] = [];
    vals.forEach((v, i) => {
      byId[id].push({ x: d + JITTER[(i + r * 17) % JITTER.length], y: v });
    });
  });
  return AN_IDS.filter((id) => byId[id]).map((id) => ({ id, points: byId[id] }));
}

const MeanBar = (p: any) => (
  <line x1={p.cx - 6} x2={p.cx + 6} y1={p.cy} y2={p.cy} stroke="#000" strokeWidth={2.5} />
);

type FacetProps = {
  left: number; top: number; w: number; h: number; axisW: number; showX: boolean;
  domain: [number, number]; ticks: number[]; minor: number[]; fmt: (v: number) => string;
  rows: Row[]; means: number[]; sigs: number[][]; strip: string;
};

function Facet(f: FacetProps) {
  const series = buildSeries(f.rows);
  const meanPts = f.means.map((m, i) => ({ x: i + 1, y: m }));
  const xH = 24;
  return (
    <>
      <div style={{ position: "absolute", left: f.left - f.axisW, top: f.top - PAD }}>
        <ScatterChart
          width={f.axisW + f.w}
          height={f.h + (f.showX ? xH : 0) + 2 * PAD}
          margin={{ top: PAD, right: 0, bottom: PAD, left: 0 }}
        >
          <CartesianGrid
            stroke="#ebebeb"
            horizontalValues={[...f.ticks, ...f.minor]}
            verticalValues={[1, 2, 3, 4]}
          />
          <XAxis
            type="number"
            dataKey="x"
            domain={[0.4, 4.6]}
            ticks={[1, 2, 3, 4]}
            interval={0}
            allowDataOverflow
            hide={!f.showX}
            height={xH}
            tickFormatter={(v: number) => DAYS[v - 1]}
            tick={{ fontSize: 15, fill: "#4d4d4d" }}
            tickSize={3}
            tickMargin={1}
            tickLine={{ stroke: "#333" }}
            axisLine={false}
          />
          <YAxis
            type="number"
            dataKey="y"
            domain={f.domain}
            ticks={f.ticks}
            interval={0}
            allowDataOverflow
            width={f.axisW}
            tickFormatter={f.fmt}
            tick={{ fontSize: 15, fill: "#4d4d4d" }}
            tickSize={3}
            tickMargin={1}
            tickLine={{ stroke: "#333" }}
            axisLine={false}
          />
          {series.map((s) => (
            <Scatter
              key={s.id}
              data={s.points}
              isAnimationActive={false}
              shape={(p: any) => (
                <circle cx={p.cx} cy={p.cy} r={2} fill="none" stroke={AN_COLORS[s.id]} strokeOpacity={0.6} strokeWidth={0.8} />
              )}
            />
          ))}
          <Scatter data={meanPts} isAnimationActive={false} shape={MeanBar} />
          {f.sigs.map(([a, b, y], i) => (
            <ReferenceLine key={i} segment={[{ x: a, y }, { x: b, y }]} stroke="#000" strokeWidth={2} ifOverflow="visible" />
          ))}
        </ScatterChart>
      </div>
      <div style={{ position: "absolute", left: f.left, top: f.top, width: f.w, height: f.h, boxSizing: "border-box", border: `1px solid ${BORDER}`, pointerEvents: "none" }} />
      <div
        style={{
          position: "absolute", left: f.left + f.w - 1, top: f.top, width: 21, height: f.h, boxSizing: "border-box",
          border: `1px solid ${BORDER}`, background: "#cdcdcd",
        }}
      >
        <div
          style={{
            position: "absolute", left: "50%", top: "50%", transform: "translate(-50%, -50%) rotate(90deg)",
            fontSize: 16.5, color: "#1a1a1a", whiteSpace: "nowrap", lineHeight: 1,
          }}
        >
          {f.strip}
        </div>
      </div>
    </>
  );
}

function Txt({ x, y, children, size, rot, bold, color }: any) {
  return (
    <div
      style={{
        position: "absolute", left: x, top: y, whiteSpace: "nowrap", lineHeight: 1, fontSize: size,
        fontWeight: bold ? 700 : 400, color: color || "#000",
        transform: `translate(-50%, -50%)${rot ? ` rotate(${rot}deg)` : ""}`,
      }}
    >
      {children}
    </div>
  );
}

function Legend({ x, y }: { x: number; y: number }) {
  return (
    <>
      <div style={{ position: "absolute", left: x, top: y - 5, fontSize: 8.5, lineHeight: "10px", color: "#1a1a1a" }}>anID</div>
      {AN_IDS.map((id, k) => (
        <div key={id} style={{ position: "absolute", left: x + 2, top: y + 14 + k * 11.7 - 5, height: 10, display: "flex", alignItems: "center" }}>
          <svg width={7} height={10}>
            <circle cx={3.5} cy={5} r={2} fill="none" stroke={AN_COLORS[id]} strokeOpacity={0.45} strokeWidth={0.8} />
          </svg>
          <span style={{ marginLeft: 3, fontSize: 7, color: "#4d4d4d" }}>{id}</span>
        </div>
      ))}
    </>
  );
}

const intFmt = (v: number) => String(v);
const modFmt = (v: number) => v.toFixed(3);

export default function App() {
  const panels = [
    {
      letter: "A", lx: 9, ly: 11, title: "log(Nodal Strength)", tx: 8, plotLeft: 37, w: 272, axisW: 34,
      tops: [2, 172], hs: [165, 165], domain: [3.82, 11.27] as [number, number], ticks: [4, 6, 8, 10], minor: [5, 7, 9, 11], fmt: intFmt,
      facets: [[nodalSham, nodalShamMeans, nodalShamSig, "Sham"], [nodalInjured, nodalInjuredMeans, nodalInjuredSig, "Injured"]],
      legend: [340, 125], daysY: 362,
    },
    {
      letter: "B", lx: 372, ly: 11, title: "log(Clustering Coefficient)", tx: 376, plotLeft: 403, w: 280, axisW: 30,
      tops: [2, 172], hs: [165, 165], domain: [0.47, 8.86] as [number, number], ticks: [2, 4, 6, 8], minor: [1, 3, 5, 7], fmt: intFmt,
      facets: [[clustSham, clustShamMeans, clustShamSig, "Sham"], [clustInjured, clustInjuredMeans, clustInjuredSig, "Injured"]],
      legend: [716, 127], daysY: 362,
    },
    {
      letter: "C", lx: 9, ly: 383, title: "log(Global Efficiency)", tx: 8, plotLeft: 37, w: 272, axisW: 34,
      tops: [376, 547], hs: [166, 165], domain: [-6.88, 8.5] as [number, number], ticks: [-4, 0, 4, 8], minor: [-6, -2, 2, 6], fmt: intFmt,
      facets: [[globalSham, globalShamMeans, globalShamSig, "Sham"], [globalInjured, globalInjuredMeans, globalInjuredSig, "Injured"]],
      legend: [340, 502], daysY: 736,
    },
    {
      letter: "D", lx: 376, ly: 383, title: "Modularity", tx: 379, plotLeft: 440, w: 243, axisW: 68,
      tops: [376, 547], hs: [166, 166], domain: [-0.0268, 0.1085] as [number, number], ticks: [-0.025, 0, 0.025, 0.05, 0.075, 0.1],
      minor: [-0.0125, 0.0125, 0.0375, 0.0625, 0.0875], fmt: modFmt,
      facets: [[modSham, modShamMeans, modShamSig, "Sham"], [modInjured, modInjuredMeans, modInjuredSig, "Injured"]],
      legend: [715, 500], daysY: 736,
    },
  ];

  return (
    <div style={{ position: "absolute", left: 0, top: 0, width: 741, height: 746, background: "#fff", fontFamily: FONT, overflow: "hidden" }}>
      {panels.map((p) => {
        const midY = (p.tops[0] + p.tops[1] + p.hs[1]) / 2;
        return (
          <React.Fragment key={p.letter}>
            {p.facets.map((fc: any, i) => (
              <Facet
                key={i}
                left={p.plotLeft}
                top={p.tops[i]}
                w={p.w}
                h={p.hs[i]}
                axisW={p.axisW}
                showX={i === 1}
                domain={p.domain}
                ticks={p.ticks}
                minor={p.minor}
                fmt={p.fmt}
                rows={fc[0]}
                means={fc[1]}
                sigs={fc[2]}
                strip={fc[3]}
              />
            ))}
            <Txt x={p.lx} y={p.ly} size={16} bold>{p.letter}</Txt>
            <Txt x={p.tx} y={midY} size={13} rot={-90}>{p.title}</Txt>
            <Txt x={p.plotLeft + p.w / 2} y={p.daysY} size={15}>Days</Txt>
            <Legend x={p.legend[0]} y={p.legend[1]} />
          </React.Fragment>
        );
      })}
    </div>
  );
}
